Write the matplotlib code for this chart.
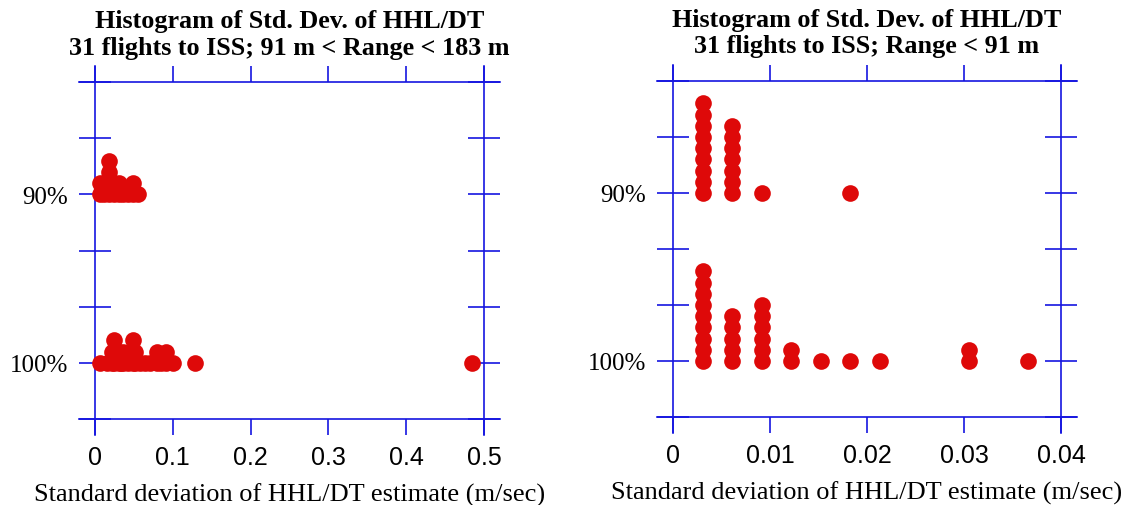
import matplotlib.pyplot as plt

# data: std. dev. bins (m/sec) and how many flights fall in each bin
left_90_sd = [0.0061, 0.0122, 0.0183, 0.0244, 0.0305, 0.0366, 0.0427, 0.0488, 0.0549]
left_90_n = [2, 2, 4, 2, 2, 1, 1, 2, 1]
left_100_sd = [0.0061, 0.0152, 0.0213, 0.0244, 0.0305, 0.0335, 0.0366, 0.0427, 0.0488,
               0.0518, 0.0579, 0.0640, 0.0701, 0.0792, 0.0853, 0.0914, 0.1006, 0.1280, 0.4846]
left_100_n = [1, 1, 2, 3, 2, 1, 2, 1, 3, 2, 1, 1, 1, 2, 1, 2, 1, 1, 1]

right_90_sd = [0.00305, 0.0061, 0.00914, 0.01829]
right_90_n = [9, 7, 1, 1]
right_100_sd = [0.00305, 0.0061, 0.00914, 0.01219, 0.01524, 0.01829, 0.02134, 0.03048, 0.03658]
right_100_n = [9, 5, 6, 2, 1, 1, 1, 2, 1]

row_90 = 3
row_100 = 0
y_ticks = [-1, 0, 1, 2, 3, 4, 5]
y_tick_labels = ['', '100%', '', '', '90%', '', '']

left_xticks = [0, 0.1, 0.2, 0.3, 0.4, 0.5]
left_xlabels = ['0', '0.1', '0.2', '0.3', '0.4', '0.5']
right_xticks = [0, 0.01, 0.02, 0.03, 0.04]
right_xlabels = ['0', '0.01', '0.02', '0.03', '0.04']

left_title = "Histogram of Std. Dev. of HHL/DT\n31 flights to ISS; 91 m < Range < 183 m"
right_title = "Histogram of Std. Dev. of HHL/DT\n31 flights to ISS; Range < 91 m"
xlabel = "Standard deviation of HHL/DT estimate (m/sec)"

BLUE = '#1515e0'
RED = '#de0909'
W, H = 1123, 506
STEP = 0.2  # vertical spacing of stacked dots

fig = plt.figure(figsize=(W / 100, H / 100), dpi=100)


def make_axes(x0, x1, ytop, ybot, xmax, ext=16):
    # x0/x1 = pixel of x=0 and x=xmax, ytop/ybot = pixel of y=5 and y=-1
    ax = fig.add_axes([(x0 - ext) / W, (H - ybot - ext) / H,
                       (x1 - x0 + 2 * ext) / W, (ybot - ytop + 2 * ext) / H])
    sx = xmax / (x1 - x0)
    sy = 6.0 / (ybot - ytop)
    ax.set_xlim(-ext * sx, xmax + ext * sx)
    ax.set_ylim(-1 - ext * sy, 5 + ext * sy)
    ax.spines['left'].set_position(('data', 0))
    ax.spines['right'].set_position(('data', xmax))
    ax.spines['bottom'].set_position(('data', -1))
    ax.spines['top'].set_position(('data', 5))
    for s in ax.spines.values():
        s.set_color(BLUE)
        s.set_linewidth(1.2)
    ax.tick_params(axis='y', left=True, right=True, direction='inout',
                   length=23, width=1.2, color=BLUE, pad=8)
    ax.tick_params(axis='x', bottom=True, top=True, direction='out',
                   length=11.5, width=1.2, color=BLUE, pad=7)
    return ax


def stack(ax, sd, n, row):
    xs, ys = [], []
    for v, c in zip(sd, n):
        for k in range(c):
            xs.append(v)
            ys.append(row + STEP * k)
    ax.scatter(xs, ys, s=144, color=RED, linewidths=0, zorder=3, clip_on=False)


def finish(ax, xticks, xlabels, title):
    ax.set_xticks(xticks)
    ax.set_xticklabels(xlabels, family='Liberation Sans', fontsize=18)
    ax.set_yticks(y_ticks)
    ax.set_yticklabels(y_tick_labels, family='Liberation Serif', fontsize=18)
    ax.set_xlabel(xlabel, family='Liberation Serif', fontsize=19, labelpad=10)
    ax.set_title(title, family='Liberation Serif', fontweight='bold', fontsize=18.8,
                 pad=9, linespacing=1.2)


axL = make_axes(95, 484, 83, 420, 0.5)
stack(axL, left_90_sd, left_90_n, row_90)
stack(axL, left_100_sd, left_100_n, row_100)
finish(axL, left_xticks, left_xlabels, left_title)

axR = make_axes(673, 1061, 82, 418, 0.04)
stack(axR, right_90_sd, right_90_n, row_90)
stack(axR, right_100_sd, right_100_n, row_100)
finish(axR, right_xticks, right_xlabels, right_title)

fig.savefig('out.png', dpi=100)
